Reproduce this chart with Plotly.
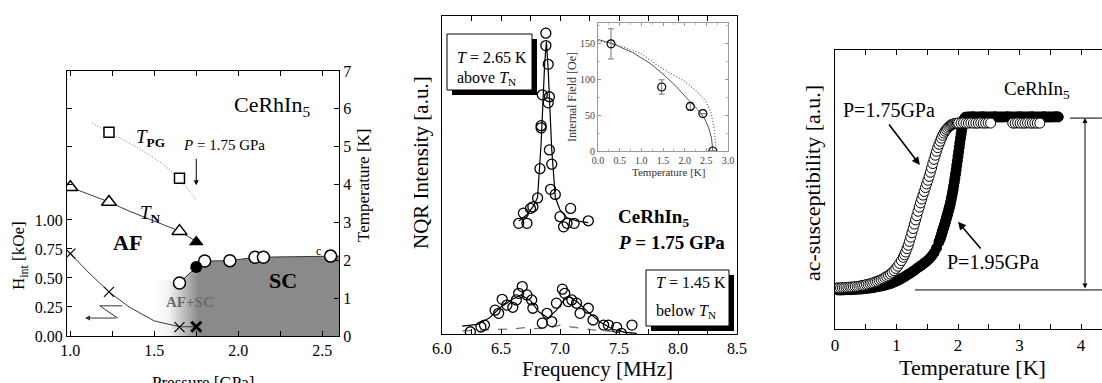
import plotly.graph_objects as go

W, H = 1102, 383
SERIF = "Liberation Serif, Times New Roman, Times, serif"


def px(x):
    return x / W


def py(y):
    return 1 - y / H


# ---------------- Panel A : phase diagram ----------------
pg_P = [1.23, 1.65]
pg_T = [5.38, 4.17]
pg_curve_P = [1.13, 1.25, 1.40, 1.55, 1.65, 1.75]
pg_curve_T = [5.62, 5.33, 4.98, 4.55, 4.15, 3.60]

tn_P = [1.0, 1.23, 1.65]
tn_T = [3.93, 3.54, 2.77]
tn_fill_P = [1.75]
tn_fill_T = [2.48]
tn_curve_P = [0.98, 1.0, 1.1, 1.23, 1.35, 1.5, 1.65, 1.75]
tn_curve_T = [3.97, 3.93, 3.76, 3.54, 3.30, 3.03, 2.77, 2.50]

tc_P = [1.65, 1.8, 1.95, 2.1, 2.15, 2.55]
tc_T = [1.40, 1.98, 1.99, 2.08, 2.08, 2.11]
tc_fill_P = [1.75]
tc_fill_T = [1.82]
tc_curve_P = [1.65, 1.75, 1.8, 1.95, 2.1, 2.55, 2.6]
tc_curve_T = [1.40, 1.82, 1.98, 1.99, 2.08, 2.11, 2.11]
sc_P = [1.50, 1.50, 1.65, 1.75, 1.8, 1.95, 2.1, 2.55, 2.6, 2.6]
sc_T = [0, 1.5, 1.45, 1.82, 1.98, 1.99, 2.08, 2.11, 2.11, 0]

hint_P = [1.0, 1.23, 1.65]
hint_H = [0.71, 0.38, 0.077]
hint_bold_P = [1.75]
hint_bold_H = [0.08]
hint_curve_P = [0.98, 1.0, 1.1, 1.23, 1.35, 1.5, 1.65, 1.75]
hint_curve_H = [0.74, 0.71, 0.56, 0.38, 0.25, 0.13, 0.08, 0.08]

H_MAX = 2.284   # H_int axis top (matches 7 K on the right axis)
T_MAX = 7

# ---------------- Panel B : NQR spectra ----------------
up_f = [6.65, 6.69, 6.72, 6.75, 6.77, 6.81, 6.83, 6.84, 6.84, 6.85, 6.88, 6.88, 6.90, 6.90,
        6.91, 6.91, 6.92, 6.93, 6.96, 7.00, 7.03, 7.06, 7.09, 7.12, 7.24]
up_y = [0.348, 0.380, 0.348, 0.395, 0.400, 0.428, 0.520, 0.648, 0.655, 0.752, 0.907, 0.946,
        0.848, 0.727, 0.746, 0.579, 0.455, 0.534, 0.439, 0.369, 0.337, 0.348, 0.395, 0.348, 0.356]
up_fit_f = [6.65, 6.72, 6.78, 6.81, 6.84, 6.87, 6.885, 6.90, 6.93, 6.96, 7.0, 7.06, 7.15, 7.24]
up_fit_y = [0.355, 0.375, 0.405, 0.43, 0.60, 0.85, 0.92, 0.83, 0.58, 0.43, 0.39, 0.365, 0.355, 0.35]

lo_f = [6.24, 6.33, 6.36, 6.45, 6.48, 6.51, 6.55, 6.60, 6.63, 6.65, 6.68, 6.72, 6.76, 6.77,
        6.85, 6.89, 6.93, 6.97, 7.02, 7.04, 7.07, 7.10, 7.14, 7.17, 7.24, 7.28, 7.37, 7.41,
        7.48, 7.52, 7.61]
lo_y = [0.007, 0.022, 0.028, 0.075, 0.065, 0.109, 0.091, 0.084, 0.107, 0.128, 0.149, 0.123,
        0.107, 0.081, 0.034, 0.065, 0.039, 0.097, 0.141, 0.128, 0.102, 0.107, 0.097, 0.065,
        0.081, 0.044, 0.028, 0.028, 0.021, 0.002, 0.028]
lo_fit_f = [6.17, 6.30, 6.40, 6.50, 6.60, 6.67, 6.75, 6.82, 6.90, 6.97, 7.03, 7.08, 7.15,
            7.25, 7.35, 7.45, 7.55, 7.65]
lo_fit_y = [0.025, 0.030, 0.050, 0.085, 0.110, 0.123, 0.105, 0.070, 0.050, 0.075, 0.105,
            0.117, 0.100, 0.065, 0.035, 0.015, 0.005, 0.002]
dash_f = [6.17, 6.4, 6.6, 6.7, 6.8, 6.9, 7.0, 7.1, 7.3, 7.5, 7.65]
dash_y = [0.010, 0.012, 0.016, 0.020, 0.017, 0.018, 0.028, 0.022, 0.012, 0.006, 0.003]

# inset: internal field vs temperature
in_T = [0.3, 1.47, 2.13, 2.42, 2.65]
in_H = [149, 89, 62, 52, 0]
in_err = [21, 10, 5, 0, 0]
in_fit_T = [0, 0.3, 0.8, 1.2, 1.5, 1.8, 2.1, 2.3, 2.45, 2.55, 2.62, 2.65]
in_fit_H = [155, 150, 137, 122, 107, 90, 70, 58, 46, 33, 18, 0]
in_dot_T = [0, 0.5, 1.0, 1.5, 2.0, 2.3, 2.5, 2.6, 2.68, 2.72]
in_dot_H = [153, 147, 135, 114, 97, 82, 68, 55, 32, 5]

# ---------------- Panel C : ac susceptibility ----------------
open_T = [0.03, 0.06, 0.09, 0.12, 0.15, 0.18, 0.21, 0.24, 0.27, 0.30,
          0.33, 0.36, 0.39, 0.42, 0.45, 0.48, 0.51, 0.54, 0.57, 0.60,
          0.63, 0.66, 0.69, 0.72, 0.75, 0.78, 0.81, 0.84, 0.87, 0.90,
          0.93, 0.96, 0.99, 1.02, 1.05, 1.08, 1.11,
          1.13, 1.15, 1.17, 1.19, 1.21, 1.23, 1.25, 1.27, 1.29, 1.31,
          1.33, 1.35, 1.37, 1.39, 1.41, 1.43, 1.45, 1.47, 1.49, 1.51,
          1.53, 1.55, 1.57, 1.59, 1.61, 1.63, 1.65, 1.67, 1.69, 1.71,
          1.73, 1.75, 1.77, 1.79, 1.81, 1.83, 1.85, 1.87, 1.89, 1.91,
          1.93, 1.95, 1.97, 1.99, 2.01,
          2.05, 2.09, 2.13, 2.17, 2.21, 2.25, 2.29, 2.33, 2.37, 2.41, 2.45, 2.49, 2.53,
          2.89, 2.93, 2.97, 3.01, 3.05, 3.09, 3.13, 3.17, 3.21, 3.25, 3.29, 3.33]
open_y = [0.147, 0.147, 0.147, 0.148, 0.148, 0.149, 0.149, 0.150, 0.150, 0.151,
          0.152, 0.152, 0.153, 0.155, 0.156, 0.157, 0.159, 0.160, 0.162, 0.164,
          0.166, 0.169, 0.171, 0.174, 0.177, 0.180, 0.184, 0.188, 0.192, 0.197,
          0.203, 0.209, 0.217, 0.225, 0.235, 0.245, 0.257,
          0.266, 0.276, 0.288, 0.300, 0.314, 0.329, 0.345, 0.360, 0.376, 0.391,
          0.406, 0.422, 0.437, 0.452, 0.466, 0.480, 0.493, 0.507, 0.520, 0.533,
          0.547, 0.562, 0.577, 0.593, 0.608, 0.623, 0.637, 0.650, 0.662, 0.673,
          0.684, 0.694, 0.702, 0.709, 0.715, 0.720, 0.725, 0.729, 0.732, 0.734,
          0.735, 0.736, 0.737, 0.738, 0.738,
          0.738, 0.739, 0.738, 0.738, 0.739, 0.738, 0.738, 0.738, 0.739, 0.738, 0.738, 0.739, 0.738,
          0.738, 0.738, 0.739, 0.738, 0.738, 0.738, 0.739, 0.738, 0.738, 0.738, 0.738, 0.738]

fill_T = [0.05, 0.09, 0.13, 0.17, 0.21, 0.25, 0.29, 0.33, 0.37, 0.41,
          0.45, 0.49, 0.53, 0.57, 0.61, 0.65, 0.69, 0.73, 0.77, 0.81,
          0.85, 0.89, 0.93, 0.97, 1.01, 1.05, 1.09, 1.13, 1.17, 1.21,
          1.25, 1.29, 1.33, 1.37, 1.41, 1.45, 1.49, 1.53, 1.57, 1.61,
          1.65, 1.69,
          1.71, 1.72, 1.73, 1.74, 1.75, 1.76, 1.77, 1.78, 1.79, 1.80,
          1.81, 1.82, 1.83, 1.84, 1.85, 1.86, 1.87, 1.88, 1.89, 1.90,
          1.91, 1.92, 1.93, 1.94, 1.95, 1.96, 1.97, 1.98, 1.99, 2.00,
          2.01, 2.02, 2.03, 2.04, 2.05, 2.06, 2.07, 2.08, 2.09, 2.10,
          2.11, 2.12,
          2.16, 2.20, 2.24, 2.28, 2.32, 2.36, 2.40, 2.44, 2.48, 2.52,
          2.56, 2.60, 2.64, 2.68, 2.72, 2.76, 2.80, 2.84, 2.88, 2.92,
          2.96, 3.00, 3.04, 3.08, 3.12, 3.16, 3.20, 3.24, 3.28, 3.32,
          3.36, 3.40, 3.44, 3.48, 3.52, 3.56, 3.60, 3.63]
fill_y = [0.140, 0.140, 0.140, 0.141, 0.141, 0.141, 0.142, 0.142, 0.143, 0.143,
          0.144, 0.145, 0.146, 0.147, 0.148, 0.150, 0.152, 0.153, 0.155, 0.157,
          0.160, 0.162, 0.165, 0.169, 0.173, 0.177, 0.182, 0.187, 0.193, 0.198,
          0.204, 0.210, 0.217, 0.223, 0.229, 0.236, 0.243, 0.251, 0.261, 0.273,
          0.290, 0.312,
          0.323, 0.330, 0.337, 0.345, 0.352, 0.359, 0.366, 0.373, 0.380, 0.388,
          0.396, 0.404, 0.412, 0.420, 0.428, 0.436, 0.445, 0.455, 0.465, 0.476,
          0.488, 0.500, 0.513, 0.527, 0.541, 0.556, 0.571, 0.587, 0.603, 0.619,
          0.635, 0.651, 0.667, 0.683, 0.698, 0.712, 0.725, 0.736, 0.745, 0.752,
          0.756, 0.759,
          0.760, 0.760, 0.761, 0.760, 0.760, 0.760, 0.761, 0.760, 0.760, 0.760,
          0.760, 0.761, 0.760, 0.760, 0.760, 0.760, 0.761, 0.760, 0.760, 0.760,
          0.760, 0.761, 0.760, 0.760, 0.760, 0.760, 0.761, 0.760, 0.760, 0.760,
          0.760, 0.761, 0.760, 0.760, 0.760, 0.760, 0.761, 0.760]

# =====================================================================
fig = go.Figure()
LINE = "#3a3a3a"

# ---- panel A traces (temperature axis y is base, H_int axis y2 overlays) ----
fig.add_trace(go.Scatter(
    x=sc_P, y=sc_T, xaxis="x", yaxis="y", mode="lines", fill="toself",
    line=dict(width=0, color="rgba(0,0,0,0)"),
    fillgradient=dict(type="horizontal", start=1.50, stop=2.6,
                      colorscale=[[0, "#ffffff"], [0.08, "#f2f2f2"], [0.24, "#8a8a8a"],
                                  [1, "#8a8a8a"]]),
    hoverinfo="skip"))
fig.add_trace(go.Scatter(x=pg_curve_P, y=pg_curve_T, xaxis="x", yaxis="y", mode="lines",
                         line=dict(color="#777", width=1, dash="1px,2px")))
fig.add_trace(go.Scatter(x=tn_curve_P, y=tn_curve_T, xaxis="x", yaxis="y", mode="lines",
                         line=dict(color=LINE, width=1)))
fig.add_trace(go.Scatter(x=tc_curve_P, y=tc_curve_T, xaxis="x", yaxis="y", mode="lines",
                         line=dict(color=LINE, width=1)))
fig.add_trace(go.Scatter(x=pg_P, y=pg_T, xaxis="x", yaxis="y", mode="markers",
                         marker=dict(symbol="square", size=10, color="white",
                                     line=dict(color="black", width=1.5))))
fig.add_trace(go.Scatter(x=tn_P, y=tn_T, xaxis="x", yaxis="y", mode="markers",
                         marker=dict(symbol="triangle-up", size=13, color="white",
                                     line=dict(color="black", width=1.5))))
fig.add_trace(go.Scatter(x=tn_fill_P, y=tn_fill_T, xaxis="x", yaxis="y", mode="markers",
                         marker=dict(symbol="triangle-up", size=13, color="black")))
fig.add_trace(go.Scatter(x=tc_P, y=tc_T, xaxis="x", yaxis="y", mode="markers",
                         marker=dict(symbol="circle", size=12, color="white",
                                     line=dict(color="black", width=1.5))))
fig.add_trace(go.Scatter(x=tc_fill_P, y=tc_fill_T, xaxis="x", yaxis="y", mode="markers",
                         marker=dict(symbol="circle", size=12, color="black")))
fig.add_trace(go.Scatter(x=hint_curve_P, y=hint_curve_H, xaxis="x", yaxis="y2", mode="lines",
                         line=dict(color=LINE, width=1)))
fig.add_trace(go.Scatter(x=hint_P, y=hint_H, xaxis="x", yaxis="y2", mode="markers",
                         marker=dict(symbol="x-thin", size=10, color="black",
                                     line=dict(color="black", width=1.2))))
fig.add_trace(go.Scatter(x=hint_bold_P, y=hint_bold_H, xaxis="x", yaxis="y2", mode="markers",
                         marker=dict(symbol="x-thin", size=10, color="black",
                                     line=dict(color="black", width=3))))

# ---- panel B traces ----
fig.add_trace(go.Scatter(x=dash_f, y=dash_y, xaxis="x2", yaxis="y3", mode="lines",
                         line=dict(color="#777", width=1.3, dash="dash")))
fig.add_trace(go.Scatter(x=up_fit_f, y=up_fit_y, xaxis="x2", yaxis="y3", mode="lines",
                         line=dict(color="black", width=1.2)))
fig.add_trace(go.Scatter(x=lo_fit_f, y=lo_fit_y, xaxis="x2", yaxis="y3", mode="lines",
                         line=dict(color="black", width=1.2)))
fig.add_trace(go.Scatter(x=up_f, y=up_y, xaxis="x2", yaxis="y3", mode="markers",
                         marker=dict(symbol="circle-open", size=10, color="black",
                                     line=dict(width=1.3))))
fig.add_trace(go.Scatter(x=lo_f, y=lo_y, xaxis="x2", yaxis="y3", mode="markers",
                         marker=dict(symbol="circle-open", size=10, color="black",
                                     line=dict(width=1.3))))
# inset
fig.add_trace(go.Scatter(x=in_dot_T, y=in_dot_H, xaxis="x3", yaxis="y4", mode="lines",
                         line=dict(color="#666", width=1.2, dash="1px,2px")))
fig.add_trace(go.Scatter(x=in_fit_T, y=in_fit_H, xaxis="x3", yaxis="y4", mode="lines",
                         line=dict(color="#555", width=1)))
fig.add_trace(go.Scatter(x=in_T, y=in_H, xaxis="x3", yaxis="y4", mode="markers",
                         error_y=dict(type="data", array=in_err, color="#777",
                                      thickness=1, width=3),
                         marker=dict(symbol="circle-open", size=8, color="black",
                                     line=dict(width=1.2))))

# ---- panel C traces ----
fig.add_trace(go.Scatter(x=fill_T, y=fill_y, xaxis="x4", yaxis="y5", mode="markers",
                         marker=dict(symbol="circle", size=10, color="black",
                                     line=dict(color="black", width=1))))
fig.add_trace(go.Scatter(x=open_T, y=open_y, xaxis="x4", yaxis="y5", mode="markers",
                         marker=dict(symbol="circle", size=10, color="white",
                                     line=dict(color="black", width=1))))

# =====================================================================
common = dict(showline=True, linecolor="black", linewidth=1.3, ticks="inside",
              ticklen=5, tickwidth=1, tickcolor="black", showgrid=False,
              zeroline=False, automargin=False,
              tickfont=dict(family=SERIF, size=16, color="black"))

h_tickvals = [0, 0.25, 0.5, 0.75, 1.0] + [t * H_MAX / T_MAX for t in (4, 5, 6)]
h_ticktext = ["0.00", "0.25", "0.50", "0.75", "1.00", "", "", ""]

fig.update_layout(
    width=W, height=H,
    margin=dict(l=0, r=0, t=0, b=0, pad=0, autoexpand=False),
    paper_bgcolor="white", plot_bgcolor="white", showlegend=False,
    font=dict(family=SERIF, color="black"),
    xaxis=dict(common, domain=[px(67), px(339)], range=[0.98, 2.6], anchor="y",
               dtick=0.5, tick0=1.0, tickformat=".1f", mirror="ticks",
               minor=dict(dtick=0.25, tick0=1.0, ticks="inside", ticklen=5, tickcolor="black")),
    yaxis=dict(common, domain=[py(336), py(71)], range=[0, T_MAX], anchor="x",
               side="right", dtick=1),
    yaxis2=dict(common, overlaying="y", side="left", anchor="x", range=[0, H_MAX],
                tickvals=h_tickvals, ticktext=h_ticktext),
    xaxis2=dict(common, domain=[px(442), px(737)], range=[6.0, 8.5], anchor="y3",
                dtick=0.5, tick0=6.0, tickformat=".1f", mirror="ticks",
                minor=dict(dtick=0.25, tick0=6.0, ticks="inside", ticklen=5, tickcolor="black")),
    yaxis3=dict(common, domain=[py(334), py(16)], range=[0, 1], anchor="x2",
                showticklabels=False, ticks="", mirror=True),
    xaxis3=dict(common, domain=[px(598), px(728)], range=[0, 3.0], anchor="y4",
                dtick=0.5, tickformat=".1f", mirror="ticks", linecolor="#999",
                linewidth=1, ticklen=3, tickcolor="#999",
                tickfont=dict(family=SERIF, size=10, color="#444"),
                minor=dict(dtick=0.25, ticks="inside", ticklen=2, tickcolor="#bbb")),
    yaxis4=dict(common, domain=[py(151), py(23)], range=[0, 178], anchor="x3",
                dtick=50, mirror="ticks", linecolor="#999", linewidth=1, ticklen=3,
                tickcolor="#999", tickfont=dict(family=SERIF, size=10, color="#444"),
                minor=dict(dtick=25, ticks="inside", ticklen=2, tickcolor="#bbb")),
    xaxis4=dict(common, domain=[px(835), 1.0], range=[0, (W - 835) / 61.5], anchor="y5",
                tickvals=[0, 1, 2, 3, 4], mirror="ticks",
                tickfont=dict(family=SERIF, size=17, color="black"),
                minor=dict(dtick=0.5, ticks="inside", ticklen=5, tickcolor="black")),
    yaxis5=dict(common, domain=[py(329), py(50)], range=[0, 1], anchor="x4",
                showticklabels=False, ticks="", mirror=True),
)


def ann(text, x, y, size, xanchor="center", yanchor="middle", angle=0, color="black"):
    fig.add_annotation(text=text, x=px(x), y=py(y), xref="paper", yref="paper",
                       showarrow=False, xanchor=xanchor, yanchor=yanchor, textangle=angle,
                       font=dict(family=SERIF, size=size, color=color))


# ---- panel A text ----
ann("CeRhIn<sub>5</sub>", 272, 106, 22)
ann("<i>T</i><sub><b>PG</b></sub>", 150, 138, 19)
ann("<i>P</i> = 1.75 GPa", 224, 145, 15)
ann("<i>T</i><sub><b>N</b></sub>", 150, 214, 19)
ann("<b>AF</b>", 127, 243, 22)
ann("<b>SC</b>", 283, 280, 22)
ann("<b>AF+SC</b>", 190, 302, 15, color="#6a6a6a")
ann("c", 318, 251, 12)
ann("H<sub>int</sub> [kOe]", 20, 256, 17, angle=-90)
ann("Temperature [K]", 363, 185, 17, angle=-90)
ann("Pressure [GPa]", 203, 371, 17, yanchor="top")

fig.add_annotation(x=1.75, y=3.98, ax=1.75, ay=4.72, xref="x", yref="y", axref="x", ayref="y",
                   showarrow=True, arrowhead=2, arrowsize=1, arrowwidth=1, arrowcolor="black", text="")
fig.add_annotation(x=1.087, y=0.155, ax=1.282, ay=0.155, xref="x", yref="y2", axref="x", ayref="y2",
                   showarrow=True, arrowhead=2, arrowsize=1, arrowwidth=1, arrowcolor="#333", text="")
fig.add_shape(type="line", xref="x", yref="y2", x0=1.175, y0=0.26, x1=1.31, y1=0.26,
              line=dict(color="#333", width=1))
fig.add_shape(type="line", xref="x", yref="y2", x0=1.175, y0=0.26, x1=1.282, y1=0.155,
              line=dict(color="#333", width=1))


# ---- panel B text ----
def shadow_box(x0, y0, x1, y1):
    fig.add_shape(type="rect", xref="paper", yref="paper", x0=px(x0 + 5), y0=py(y1 + 5),
                  x1=px(x1 + 5), y1=py(y0 + 5), fillcolor="black", line=dict(width=0))
    fig.add_shape(type="rect", xref="paper", yref="paper", x0=px(x0), y0=py(y1),
                  x1=px(x1), y1=py(y0), fillcolor="white", line=dict(color="black", width=1))


shadow_box(447, 34, 532, 90)
ann("<i>T</i> = 2.65 K", 455, 58, 16, xanchor="left")
ann("above <i>T</i><sub>N</sub>", 455, 78, 16, xanchor="left")
shadow_box(646, 270, 729, 326)
ann("<i>T</i> = 1.45 K", 654, 282, 16, xanchor="left")
ann("below <i>T</i><sub>N</sub>", 654, 311, 16, xanchor="left")
ann("<b>CeRhIn<sub>5</sub></b>", 616, 218, 19, xanchor="left")
ann("<b><i>P</i> = 1.75 GPa</b>", 616, 243, 19, xanchor="left")
ann("NQR Intensity [a.u.]", 421, 163, 21, angle=-90)
ann("Frequency [MHz]", 597, 369, 21)
ann("Internal Field [Oe]", 572, 97, 12, angle=-90, color="#333")
ann("Temperature [K]", 668, 172, 11, color="#333")

# ---- panel C text ----
ann("CeRhIn<sub>5</sub>", 1037, 90, 19)
ann("P=1.75GPa", 889, 110, 20)
ann("P=1.95GPa", 993, 262, 20)
ann("ac-susceptibility [a.u.]", 812, 183, 22, angle=-90)
ann("Temperature [K]", 972, 367, 22)

fig.add_annotation(x=1.38, y=0.588, ax=0.86, ay=0.738, xref="x4", yref="y5", axref="x4", ayref="y5",
                   showarrow=True, arrowhead=2, arrowsize=1, arrowwidth=1.6, arrowcolor="black", text="")
fig.add_annotation(x=2.0, y=0.384, ax=2.39, ay=0.283, xref="x4", yref="y5", axref="x4", ayref="y5",
                   showarrow=True, arrowhead=2, arrowsize=1, arrowwidth=1.6, arrowcolor="black", text="")
fig.add_annotation(x=4.065, y=0.756, ax=4.065, ay=0.14, xref="x4", yref="y5", axref="x4", ayref="y5",
                   showarrow=True, arrowhead=2, startarrowhead=2, arrowside="end+start",
                   arrowsize=1, arrowwidth=1, arrowcolor="black", text="")
fig.add_shape(type="line", xref="x4", yref="y5", x0=3.82, y0=0.756, x1=4.34, y1=0.756,
              line=dict(color="black", width=1))
fig.add_shape(type="line", xref="x4", yref="y5", x0=1.30, y0=0.14, x1=4.34, y1=0.14,
              line=dict(color="black", width=1))

fig.write_html(
    "out.html",
    config={"displayModeBar": False},
    post_script="document.body.style.margin='0';document.body.style.overflow='hidden';",
)
